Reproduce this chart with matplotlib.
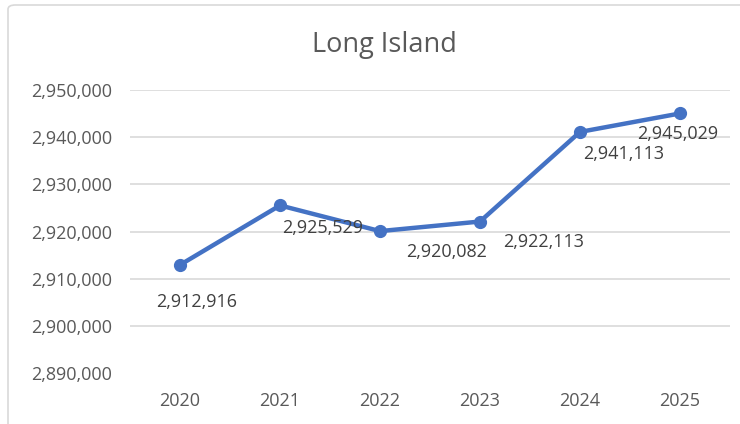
import matplotlib
matplotlib.use("Agg")
import matplotlib.pyplot as plt
from matplotlib.ticker import FuncFormatter, MultipleLocator
from matplotlib.patches import FancyBboxPatch

years = ["2020", "2021", "2022", "2023", "2024", "2025"]
population = [2912916, 2925529, 2920082, 2922113, 2941113, 2945029]
title = "Long Island"

# label offsets in pixels (dx, dy) relative to each point (style only)
label_offsets = [(17, -37), (43, -23), (67, -21), (64, -20), (44, -22), (-2, -21)]

plt.rcParams['font.family'] = ['Open Sans', 'DejaVu Sans']
W, H = 740, 424
fig = plt.figure(figsize=(W / 100, H / 100), dpi=100)

# chart border
border = FancyBboxPatch((8 / W, -0.05), 1.2, 1 - 5 / H + 0.05,
                        boxstyle="round,pad=0,rounding_size=0.01",
                        transform=fig.transFigure, fill=False,
                        edgecolor="#D9D9D9", linewidth=1.2)
fig.patches.append(border)

left, right = 130 / W, 730 / W
bottom, top = 1 - 373 / H, 1 - 90 / H
ax = fig.add_axes([left, bottom, right - left, top - bottom])

x = list(range(len(years)))
ax.plot(x, population, color="#4472C4", linewidth=3.2, marker="o",
        markersize=8.5, solid_capstyle="round", zorder=3)

ax.set_xlim(-0.5, len(years) - 0.5)
ax.set_ylim(2890000, 2950000)
ax.yaxis.set_major_locator(MultipleLocator(10000))
ax.yaxis.set_major_formatter(FuncFormatter(lambda v, p: f"{int(v):,}"))
ax.set_xticks(x)
ax.set_xticklabels(years)

for yv in range(2900000, 2950001, 10000):
    ax.axhline(yv, color="#D9D9D9", linewidth=1.2, zorder=1)

for s in ax.spines.values():
    s.set_visible(False)
ax.tick_params(axis="both", length=0, colors="#595959", labelsize=13)
ax.tick_params(axis="y", pad=13)
ax.tick_params(axis="x", pad=14)

for xi, yv, (dx, dy) in zip(x, population, label_offsets):
    ax.annotate(f"{yv:,}", (xi, yv), xytext=(dx * 0.72, dy * 0.72),
                textcoords="offset points", ha="center", va="center",
                fontsize=13, color="#404040", zorder=4)

fig.text(384 / W, 1 - 45 / H, title, ha="center", va="center",
         fontsize=19.5, color="#595959")

fig.savefig("out.png", dpi=100)
